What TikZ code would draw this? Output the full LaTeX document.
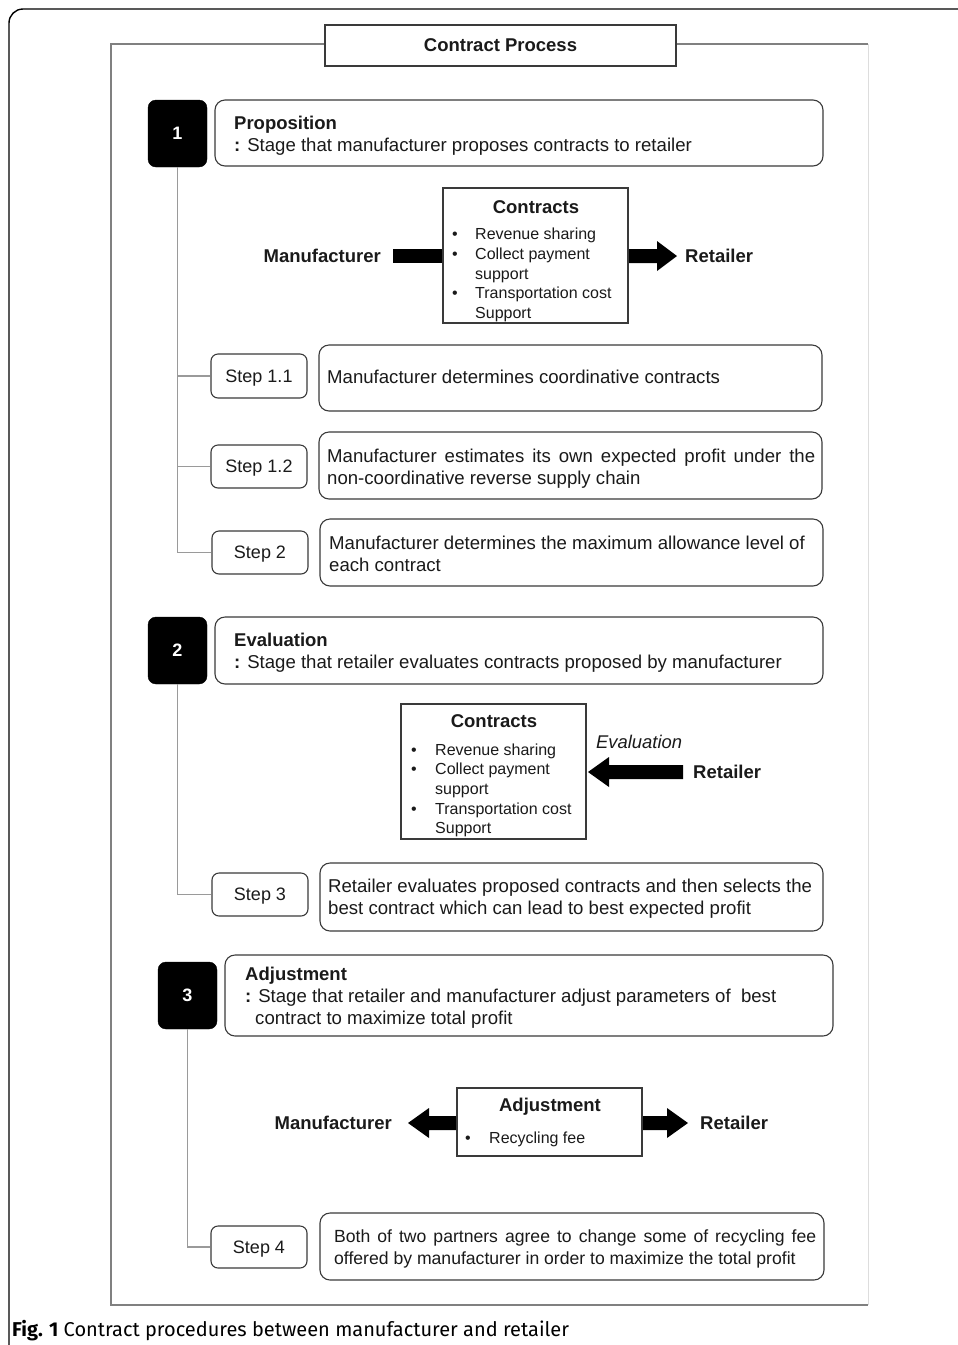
\documentclass[tikz,border=0pt]{standalone}
\usepackage{fontspec}
\setmainfont{Liberation Sans}
\newfontfamily\capfont{Fira Sans}
\definecolor{boxgray}{HTML}{3A3A3A}
\definecolor{linegray}{HTML}{9A9A9A}
\definecolor{framegray}{HTML}{808080}
\definecolor{faintgray}{HTML}{DDDDDD}
\definecolor{txtc}{HTML}{1A1A1A}
\tikzset{
  rbox/.style={draw=boxgray, line width=1.1pt, rounded corners=10pt, inner sep=0pt, fill=white},
  stepbox/.style={draw=boxgray, line width=1.1pt, rounded corners=7pt, inner sep=0pt, fill=white, text depth=0pt, font=\fontsize{18}{22}\selectfont, text=txtc},
  stagebox/.style={fill=black, draw=black, rounded corners=8pt, inner sep=0pt, text=white, font=\fontsize{18}{22}\selectfont\bfseries},
  plainbox/.style={draw=boxgray, line width=1.1pt, inner sep=0pt, fill=white},
  titlebox/.style={draw=boxgray, line width=1.1pt, inner sep=0pt, fill=white, font=\fontsize{18.5}{22}\selectfont\bfseries, text=txtc},
  conn/.style={draw=linegray, line width=1.3pt},
  txt/.style={anchor=mid west, inner sep=0pt, yshift=-4pt, text=txtc, font=\fontsize{18.6}{22}\selectfont},
  btxt/.style={txt, font=\fontsize{18.5}{22}\selectfont\bfseries},
  stxt/.style={txt, yshift=1pt, font=\fontsize{16}{20}\selectfont},
  bigarrow/.style={fill=black, draw=none},
}
\begin{document}
\begin{tikzpicture}[x=1pt, y=-1pt]
\useasboundingbox (0,0) rectangle (958,1345);
% outer frame
\draw[black, line width=1.4pt, rounded corners=14pt] (9,1400) -- (9,9) -- (1010,9);
% inner frame
\draw[faintgray, line width=1pt] (868,44) -- (868,1305);
\draw[framegray, line width=1.4pt] (325,44) -- (111,44) -- (111,1305) -- (868,1305);
\draw[framegray, line width=1.4pt] (676,44) -- (868,44);
\node[titlebox, minimum width=351pt, minimum height=41pt] (title) at (500.5,45.5) {Contract Process};

% ---------- Stage 1 ----------
\node[stagebox, minimum width=59pt, minimum height=67pt] (st1) at (177.5,133.5) {1};
\node[rbox, minimum width=608pt, minimum height=66pt] (p1) at (519,133) {};
\node[btxt] (p1a) at (234,123) {Proposition};
\node[txt] (p1b) at (234,145) {\textbf{:} Stage that manufacturer proposes contracts to retailer};

\node[btxt, anchor=mid east] (man1) at (381,256) {Manufacturer};
\fill[bigarrow] (393,249) rectangle (445,263);
\fill[bigarrow] (626,249) -- (657,249) -- (657,241) -- (677,256) -- (657,271) -- (657,263) -- (626,263) -- cycle;
\node[plainbox, minimum width=185pt, minimum height=135pt] (ca) at (535.5,255.5) {};
\node[btxt, anchor=mid] (cat) at (536,207) {Contracts};
\node[stxt] (ca1b) at (452,234) {•};
\node[stxt] (ca1) at (475,234) {Revenue sharing};
\node[stxt] (ca2b) at (452,254) {•};
\node[stxt] (ca2) at (475,254) {Collect payment};
\node[stxt] (ca3) at (475,274) {support};
\node[stxt] (ca4b) at (452,293) {•};
\node[stxt] (ca4) at (475,293) {Transportation cost};
\node[stxt] (ca5) at (475,313) {Support};
\node[btxt] (ret1) at (685,256) {Retailer};

\node[stepbox, minimum width=96pt, minimum height=44pt] (s11) at (259,376) {Step 1.1};
\node[rbox, minimum width=503pt, minimum height=66pt] (t11) at (570.5,378) {};
\node[txt] (t11a) at (327,377) {Manufacturer determines coordinative contracts};

\node[stepbox, minimum width=96pt, minimum height=43pt] (s12) at (259,466.5) {Step 1.2};
\node[rbox, minimum width=503pt, minimum height=67pt] (t12) at (570.5,465.5) {};
\node[txt] (t12a) at (327,456) {\makebox[488pt][s]{Manufacturer estimates its own expected profit under the}};
\node[txt] (t12b) at (327,478) {non-coordinative reverse supply chain};

\node[stepbox, minimum width=96pt, minimum height=43pt] (s2) at (260,552.5) {Step 2};
\node[rbox, minimum width=503pt, minimum height=67pt] (t2) at (571.5,552.5) {};
\node[txt] (t2a) at (329,543) {Manufacturer determines the maximum allowance level of};
\node[txt] (t2b) at (329,565) {each contract};

\draw[conn] (st1.south) |- (s2.west);
\draw[conn] (st1.south |- s11.west) -- (s11.west);
\draw[conn] (st1.south |- s12.west) -- (s12.west);

% ---------- Stage 2 ----------
\node[stagebox, minimum width=59pt, minimum height=67pt] (st2) at (177.5,650.5) {2};
\node[rbox, minimum width=608pt, minimum height=67pt] (e1) at (519,650.5) {};
\node[btxt] (e1a) at (234,640) {Evaluation};
\node[txt] (e1b) at (234,662) {\textbf{:} Stage that retailer evaluates contracts proposed by manufacturer};

\node[plainbox, minimum width=185pt, minimum height=135pt] (cb) at (493.5,771.5) {};
\node[btxt, anchor=mid] (cbt) at (494,721) {Contracts};
\node[stxt] (cb1b) at (411,750) {•};
\node[stxt] (cb1) at (435,750) {Revenue sharing};
\node[stxt] (cb2b) at (411,769) {•};
\node[stxt] (cb2) at (435,769) {Collect payment};
\node[stxt] (cb3) at (435,789) {support};
\node[stxt] (cb4b) at (411,809) {•};
\node[stxt] (cb4) at (435,809) {Transportation cost};
\node[stxt] (cb5) at (435,828) {Support};
\node[txt, font=\fontsize{18.4}{22}\selectfont\itshape] (evl) at (596,742) {Evaluation};
\fill[bigarrow] (683,765) -- (609,765) -- (609,757) -- (588,772) -- (609,787) -- (609,779) -- (683,779) -- cycle;
\node[btxt] (ret2) at (693,772) {Retailer};

\node[stepbox, minimum width=96pt, minimum height=43pt] (s3) at (260,894.5) {Step 3};
\node[rbox, minimum width=503pt, minimum height=68pt] (t3) at (571.5,897) {};
\node[txt] (t3a) at (328,886) {Retailer evaluates proposed contracts and then selects the};
\node[txt] (t3b) at (328,908) {best contract which can lead to best expected profit};

\draw[conn] (st2.south) |- (s3.west);

% ---------- Stage 3 ----------
\node[stagebox, minimum width=59pt, minimum height=67pt] (st3) at (187.5,995.5) {3};
\node[rbox, minimum width=608pt, minimum height=81pt] (a1) at (529,995.5) {};
\node[btxt] (a1a) at (245,974) {Adjustment};
\node[txt] (a1b) at (245,996) {\textbf{:} Stage that retailer and manufacturer adjust parameters of\ \ best};
\node[txt] (a1c) at (255,1018) {contract to maximize total profit};

\node[btxt, anchor=mid east] (man3) at (392,1123) {Manufacturer};
\fill[bigarrow] (459,1116) -- (429,1116) -- (429,1108) -- (408,1123) -- (429,1138) -- (429,1130) -- (459,1130) -- cycle;
\fill[bigarrow] (640,1116) -- (667,1116) -- (667,1108) -- (688,1123) -- (667,1138) -- (667,1130) -- (640,1130) -- cycle;
\node[plainbox, minimum width=185pt, minimum height=68pt] (adj) at (549.5,1122) {};
\node[btxt, anchor=mid] (adjt) at (550,1105) {Adjustment};
\node[stxt] (adj1b) at (465,1138) {•};
\node[stxt] (adj1) at (489,1138) {Recycling fee};
\node[btxt] (ret3) at (700,1123) {Retailer};

\node[stepbox, minimum width=96pt, minimum height=42pt] (s4) at (259,1247) {Step 4};
\node[rbox, minimum width=504pt, minimum height=67pt] (t4) at (572,1246.5) {};
\node[txt, font=\fontsize{17.6}{22}\selectfont] (t4a) at (334,1236) {\makebox[482pt][s]{Both of two partners agree to change some of recycling fee}};
\node[txt, font=\fontsize{17.6}{22}\selectfont] (t4b) at (334,1258) {offered by manufacturer in order to maximize the total profit};

\draw[conn] (st3.south) |- (s4.west);

% caption
\node[anchor=mid west, inner sep=0pt, yshift=-3pt, font=\capfont\fontsize{20}{24}\selectfont] (cap) at (12,1331) {\textbf{Fig. 1} Contract procedures between manufacturer and retailer};
\end{tikzpicture}
\end{document}
